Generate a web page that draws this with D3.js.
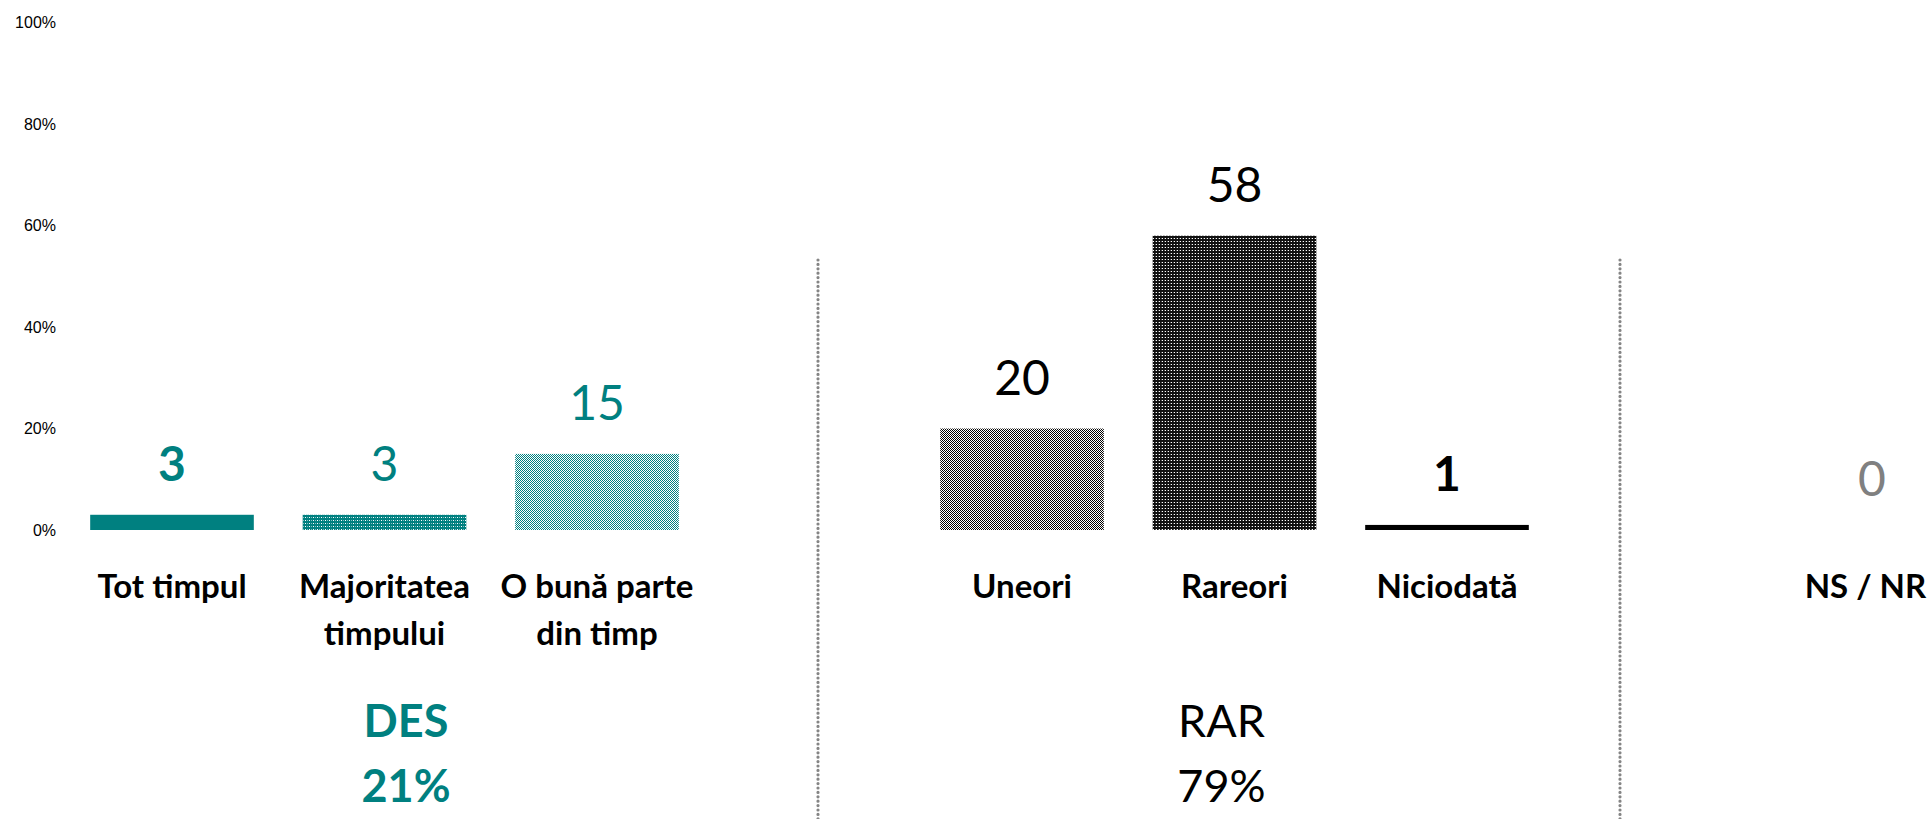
<!DOCTYPE html>
<html>
<head>
<meta charset="utf-8">
<script src="https://cdn.jsdelivr.net/npm/d3@7"></script>
<style>
  html, body { margin: 0; padding: 0; background: #fff; overflow: hidden; }
  svg { display: block; }
</style>
</head>
<body>
<svg id="chart" width="1930" height="819"></svg>
<script>
// ---- data ----
const categories = ["Tot timpul", "Majoritatea timpului", "O bună parte din timp",
                    "Uneori", "Rareori", "Niciodată", "NS / NR"];
const categoryLines = [["Tot timpul"], ["Majoritatea", "timpului"], ["O bună parte", "din timp"],
                       ["Uneori"], ["Rareori"], ["Niciodată"], ["NS / NR"]];
const values = [3, 3, 15, 20, 58, 1, 0];
const categoryGroup = ["DES", "DES", "DES", "RAR", "RAR", "RAR", "NS"];
const groupNames = ["DES", "RAR"];
const groupTotals = ["21%", "79%"];
const yTicks = [0, 20, 40, 60, 80, 100];

// ---- styling ----
const W = 1930, H = 819;
const TEAL = "#008080";
const barFill = {
  "Tot timpul": TEAL,
  "Majoritatea timpului": "url(#pDenseTeal)",
  "O bună parte din timp": "url(#pLightTeal)",
  "Uneori": "url(#pGrey)",
  "Rareori": "url(#pDark)",
  "Niciodată": "#000",
  "NS / NR": "#808080"
};
const labelColor = { DES: TEAL, RAR: "#000", NS: "#808080" };
const boldValue = new Set(["Tot timpul", "Niciodată"]);

const svg = d3.select("#chart");

// ---- fill patterns ----
const defs = svg.append("defs");
function pattern(id, w, h, bg, dots) {
  const p = defs.append("pattern").attr("id", id)
    .attr("patternUnits", "userSpaceOnUse").attr("width", w).attr("height", h);
  p.append("rect").attr("width", w).attr("height", h).attr("fill", bg).attr("shape-rendering", "crispEdges");
  dots.forEach(([x, y, c]) => p.append("rect").attr("x", x).attr("y", y)
    .attr("width", 1).attr("height", 1).attr("fill", c).attr("shape-rendering", "crispEdges"));
}
pattern("pDenseTeal", 4, 3, TEAL, [[1, 1, "#fff"], [3, 1, "#7fbfbf"]]);
pattern("pLightTeal", 2, 2, "#fff", [[0, 0, TEAL], [1, 1, TEAL]]);
pattern("pGrey", 2, 2, "#fff", [[0, 0, "#000"], [1, 1, "#000"]]);
pattern("pDark", 3, 3, "#111", [[1, 1, "#fff"], [0, 1, "#555"]]);

// ---- scales ----
// slots: each group of bars followed by an empty separator slot
const slots = [];
categories.forEach((c, i) => {
  if (i > 0 && categoryGroup[i] !== categoryGroup[i - 1]) slots.push("sep" + i);
  slots.push(c);
});

const x = d3.scaleBand()
  .domain(slots)
  .range([65.75, 65.75 + slots.length * 212.5])
  .paddingInner(0.23)
  .paddingOuter(0.115);

const y = d3.scaleLinear().domain([0, 100]).range([530, 22.6]);

// ---- y axis (labels only) ----
const yAxis = svg.append("g")
  .attr("transform", "translate(56,0)")
  .call(d3.axisLeft(y).tickValues(yTicks).tickFormat(d => d + "%").tickSize(0).tickPadding(0));
yAxis.select(".domain").remove();
yAxis.selectAll("text")
  .attr("font-family", "'Liberation Sans', Arial, sans-serif")
  .attr("font-size", 16)
  .attr("fill", "#000");

// ---- bars ----
const data = categories.map((c, i) => ({ c, v: values[i], g: categoryGroup[i], lines: categoryLines[i] }));

svg.append("g").selectAll("rect")
  .data(data.filter(d => d.v > 0))
  .join("rect")
  .attr("x", d => x(d.c))
  .attr("y", d => y(d.v))
  .attr("width", x.bandwidth())
  .attr("height", d => y(0) - y(d.v))
  .attr("fill", d => barFill[d.c]);

// ---- value labels ----
svg.append("g").selectAll("text")
  .data(data)
  .join("text")
  .attr("x", d => x(d.c) + x.bandwidth() / 2)
  .attr("y", d => y(d.v) - 34)
  .attr("text-anchor", "middle")
  .attr("font-family", "Lato, 'Open Sans', sans-serif")
  .attr("font-size", 48)
  .attr("font-weight", d => boldValue.has(d.c) ? 700 : 400)
  .attr("fill", d => labelColor[d.g])
  .text(d => d.v);

// ---- category labels ----
const catG = svg.append("g").selectAll("text")
  .data(data)
  .join("text")
  .attr("text-anchor", "middle")
  .attr("font-family", "Lato, 'Open Sans', sans-serif")
  .attr("font-size", 33)
  .attr("font-weight", 700)
  .attr("fill", "#000");
catG.selectAll("tspan")
  .data(d => d.lines.map(l => ({ l, xc: x(d.c) + x.bandwidth() / 2 })))
  .join("tspan")
  .attr("x", t => t.xc)
  .attr("y", (t, i) => 598 + i * 47)
  .text(t => t.l);
// keep labels inside the right edge
catG.each(function () {
  const b = this.getBBox();
  const over = b.x + b.width - (W - 3);
  if (over > 0) d3.select(this).attr("transform", `translate(${-over},0)`);
});

// ---- group separators ----
const sepOffsets = { sep3: 8.5, sep6: -39.5 };
svg.append("g").selectAll("line")
  .data(slots.filter(s => s.startsWith("sep")))
  .join("line")
  .attr("x1", s => x(s) + x.bandwidth() / 2 + sepOffsets[s])
  .attr("x2", s => x(s) + x.bandwidth() / 2 + sepOffsets[s])
  .attr("y1", 260)
  .attr("y2", H)
  .attr("stroke", "#858585")
  .attr("stroke-width", 3.2)
  .attr("stroke-linecap", "round")
  .attr("stroke-dasharray", "0 4.4");

// ---- group totals ----
const groupAnchor = { DES: ["Majoritatea timpului", 21.5], RAR: ["Rareori", -13] };
const grp = svg.append("g").selectAll("text")
  .data(groupNames.map((g, i) => ({ g, total: groupTotals[i] })))
  .join("text")
  .attr("text-anchor", "middle")
  .attr("font-family", "Lato, 'Open Sans', sans-serif")
  .attr("font-size", 45)
  .attr("font-weight", d => d.g === "DES" ? 700 : 400)
  .attr("fill", d => labelColor[d.g]);
grp.selectAll("tspan")
  .data(d => {
    const [cat, dx] = groupAnchor[d.g];
    const xc = x(cat) + x.bandwidth() / 2 + dx;
    return [d.g, d.total].map((t, i) => ({ t, xc, i }));
  })
  .join("tspan")
  .attr("x", t => t.xc)
  .attr("y", t => 737 + t.i * 65)
  .text(t => t.t);
</script>
</body>
</html>
